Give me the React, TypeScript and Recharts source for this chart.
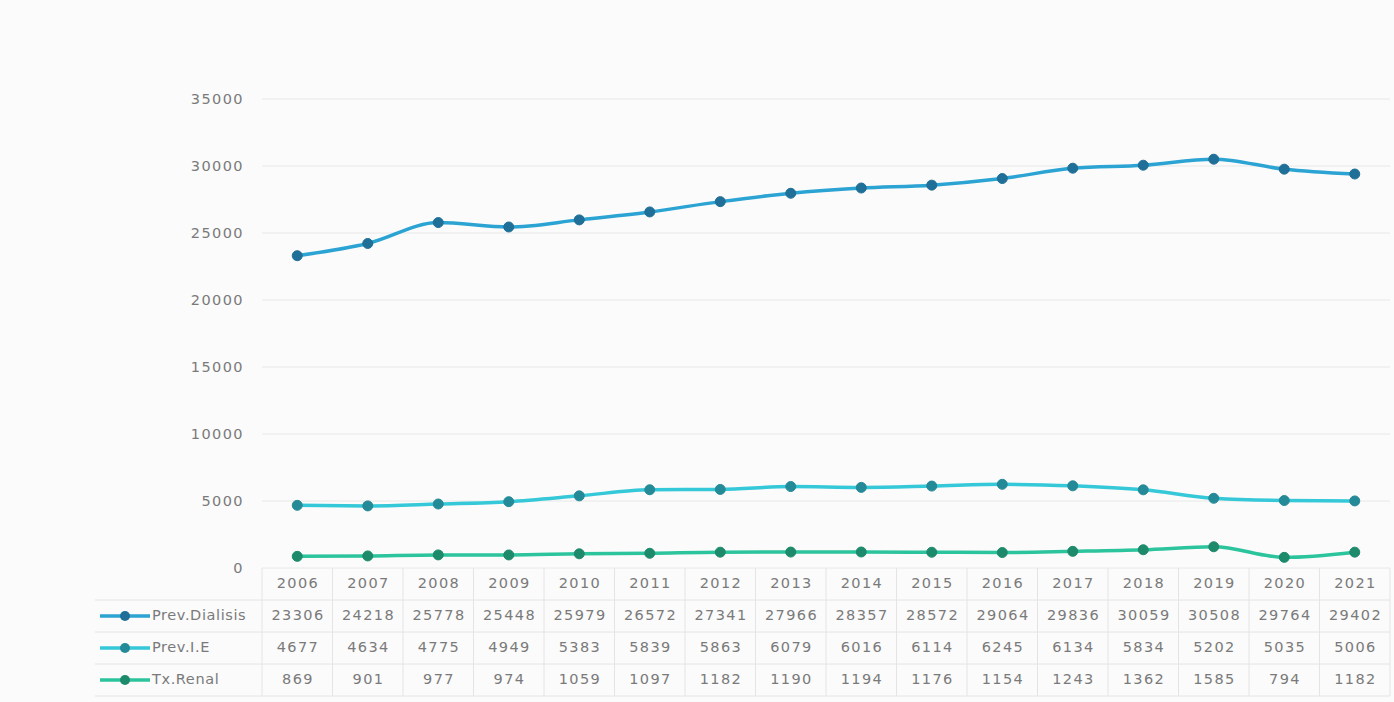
import { LineChart, Line, XAxis, YAxis, CartesianGrid } from "recharts";

const years = ["2006", "2007", "2008", "2009", "2010", "2011", "2012", "2013", "2014", "2015", "2016", "2017", "2018", "2019", "2020", "2021"];
const prevDialisis = [23306, 24218, 25778, 25448, 25979, 26572, 27341, 27966, 28357, 28572, 29064, 29836, 30059, 30508, 29764, 29402];
const prevIE = [4677, 4634, 4775, 4949, 5383, 5839, 5863, 6079, 6016, 6114, 6245, 6134, 5834, 5202, 5035, 5006];
const txRenal = [869, 901, 977, 974, 1059, 1097, 1182, 1190, 1194, 1176, 1154, 1243, 1362, 1585, 794, 1182];
const yTicks = [0, 5000, 10000, 15000, 20000, 25000, 30000, 35000];

const series = [
  { key: "dialisis", name: "Prev.Dialisis", values: prevDialisis, stroke: "#2ba3d3", dot: "#1f6f98" },
  { key: "ie", name: "Prev.I.E", values: prevIE, stroke: "#35c8d8", dot: "#258a98" },
  { key: "renal", name: "Tx.Renal", values: txRenal, stroke: "#2cc49c", dot: "#1d8a6c" },
];

const data = years.map((year, i) => {
  const row: Record<string, string | number> = { year };
  series.forEach((s) => (row[s.key] = s.values[i]));
  return row;
});

const TEXT = "#7a7a7a";
const FONT = "'DejaVu Sans', sans-serif";
const SPACING = 1.4;
const COL = 70.5;
const ROW_Y = [16, 48, 80, 112];
const TABLE_BOTTOM = 128;
const GRID = "#e4e4e4";

// data table rendered below the axis, one column per category tick
function TableTick(props: any) {
  const { x, y, payload, index } = props;
  const left = x - COL / 2;
  const right = x + COL / 2;
  const cx = x + SPACING / 2;
  return (
    <g fontFamily={FONT} fontSize={14.5} fill={TEXT} letterSpacing={SPACING}>
      <line x1={left} y1={y} x2={left} y2={y + TABLE_BOTTOM} stroke={GRID} />
      {index === years.length - 1 && (
        <line x1={right} y1={y} x2={right} y2={y + TABLE_BOTTOM} stroke={GRID} />
      )}
      <text x={cx} y={y + ROW_Y[0]} textAnchor="middle" dominantBaseline="middle">
        {payload.value}
      </text>
      {series.map((s, r) => (
        <text key={s.key} x={cx} y={y + ROW_Y[r + 1]} textAnchor="middle" dominantBaseline="middle">
          {s.values[index]}
        </text>
      ))}
      {index === 0 && (
        <g>
          <line x1={left - 167} y1={y + 32} x2={right + COL * 15} y2={y + 32} stroke={GRID} />
          <line x1={left - 167} y1={y + 64} x2={right + COL * 15} y2={y + 64} stroke={GRID} />
          <line x1={left - 167} y1={y + 96} x2={right + COL * 15} y2={y + 96} stroke={GRID} />
          <line x1={left - 167} y1={y + TABLE_BOTTOM} x2={right + COL * 15} y2={y + TABLE_BOTTOM} stroke={GRID} />
          {series.map((s, r) => {
            const ry = y + ROW_Y[r + 1];
            return (
              <g key={s.key}>
                <line x1={left - 162} y1={ry} x2={left - 112} y2={ry} stroke={s.stroke} strokeWidth={3.5} />
                <circle cx={left - 137} cy={ry} r={5} fill={s.dot} />
                <text x={left - 110} y={ry} dominantBaseline="middle" fill={TEXT} letterSpacing={0.6}>
                  {s.name}
                </text>
              </g>
            );
          })}
        </g>
      )}
    </g>
  );
}

export default function App() {
  return (
    <div style={{ position: "absolute", left: 0, top: 0, width: 1394, height: 702, background: "#fbfbfb" }}>
      <LineChart width={1394} height={702} data={data} margin={{ top: 99, right: 4, bottom: 4, left: 162 }}>
        <CartesianGrid vertical={false} stroke="#e8e8e8" />
        <XAxis
          dataKey="year"
          height={130}
          padding={{ left: COL / 2, right: COL / 2 }}
          axisLine={false}
          tickLine={false}
          tickSize={0}
          tickMargin={0}
          interval={0}
          tick={<TableTick />}
        />
        <YAxis
          width={100}
          domain={[0, 35000]}
          ticks={yTicks}
          axisLine={false}
          tickLine={false}
          tickSize={0}
          tickMargin={18}
          tick={{ fill: TEXT, fontSize: 14.5, fontFamily: FONT, letterSpacing: SPACING }}
        />
        {series.map((s) => (
          <Line
            key={s.key}
            type="monotone"
            dataKey={s.key}
            name={s.name}
            stroke={s.stroke}
            strokeWidth={3.5}
            dot={{ r: 5, fill: s.dot, stroke: s.dot, strokeWidth: 1 }}
            activeDot={false}
            isAnimationActive={false}
          />
        ))}
      </LineChart>
    </div>
  );
}
